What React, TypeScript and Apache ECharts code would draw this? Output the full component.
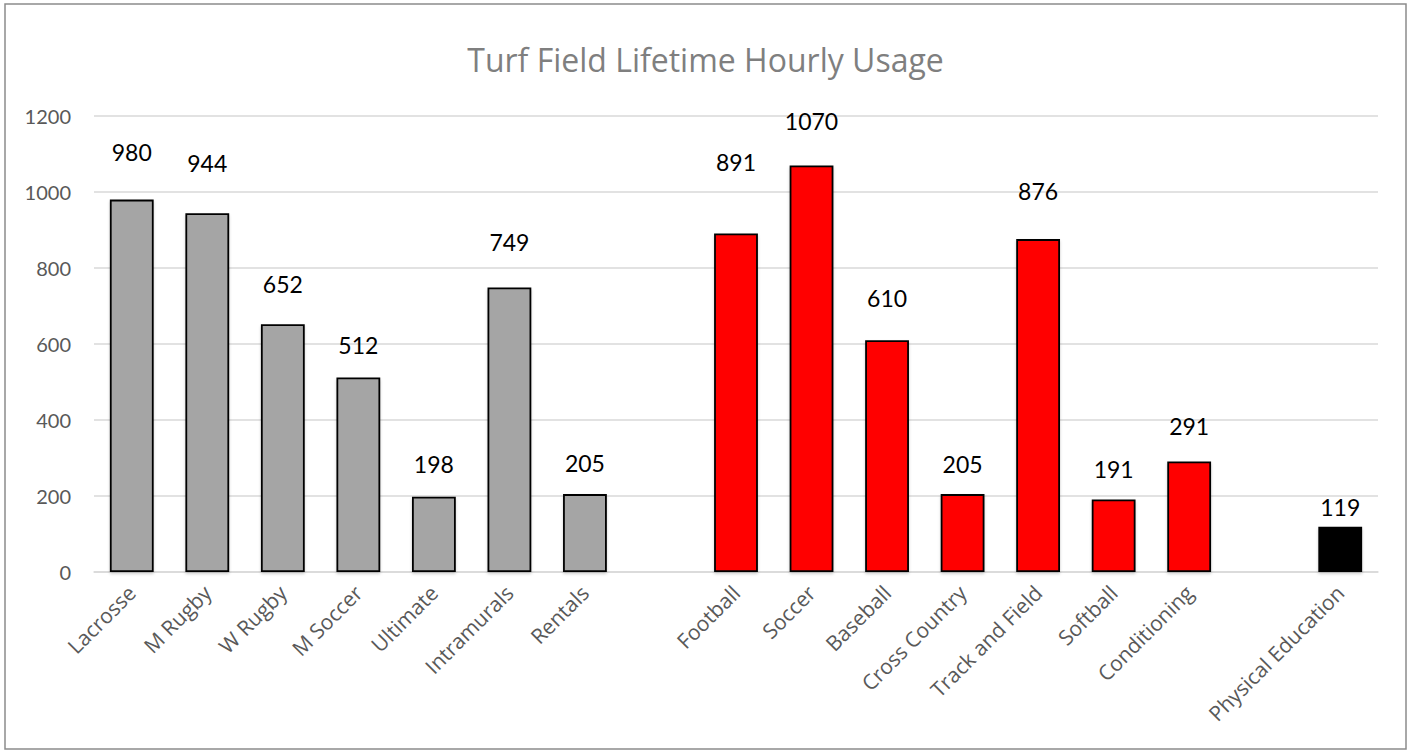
import React, { useEffect, useRef } from "react";
import * as echarts from "echarts";

const categories = [
  "Lacrosse", "M Rugby", "W Rugby", "M Soccer", "Ultimate", "Intramurals", "Rentals",
  "",
  "Football", "Soccer", "Baseball", "Cross Country", "Track and Field", "Softball", "Conditioning",
  " ",
  "Physical Education",
];
const hours: (number | null)[] = [
  980, 944, 652, 512, 198, 749, 205,
  null,
  891, 1070, 610, 205, 876, 191, 291,
  null,
  119,
];
const groupOf = [
  "club", "club", "club", "club", "club", "club", "club",
  "",
  "varsity", "varsity", "varsity", "varsity", "varsity", "varsity", "varsity",
  "",
  "pe",
];
const labelGap = [36, 39, 29, 21, 21, 34, 20, 0, 60, 33, 31, 19, 37, 19, 24, 0, 8];
const groupColors: Record<string, string> = { club: "#A5A5A5", varsity: "#FF0000", pe: "#000000" };
const yTicks = { min: 0, max: 1200, interval: 200 };

const FONT = "Lato";
const FONT2 = "Open Sans";

export default function App() {
  const ref = useRef<HTMLDivElement>(null);
  useEffect(() => {
    if (!ref.current) return;
    const chart = echarts.init(ref.current, null, { renderer: "svg" });
    const data = hours.map((v, i) =>
      v === null
        ? "-"
        : {
            value: v,
            itemStyle: { color: groupColors[groupOf[i]] },
            label: { distance: labelGap[i] },
          }
    );
    chart.setOption({
      animation: false,
      textStyle: { fontFamily: FONT },
      title: {
        text: "Turf Field Lifetime Hourly Usage",
        left: "center",
        top: 38,
        textStyle: { fontFamily: FONT2, fontSize: 32, fontWeight: "normal", color: "#7F7F7F" },
      },
      graphic: [
        {
          type: "rect",
          shape: { x: 5, y: 4, width: 1401, height: 745 },
          style: { fill: "none", stroke: "#8C8C8C", lineWidth: 1.5 },
          silent: true,
        },
      ],
      grid: { left: 94, top: 116, width: 1284, height: 456, containLabel: false },
      xAxis: {
        type: "category",
        data: categories,
        axisTick: { show: false },
        axisLine: { show: true, lineStyle: { color: "#D9D9D9", width: 1.5 } },
        axisLabel: {
          rotate: 45,
          interval: 0,
          margin: 17,
          fontFamily: FONT2,
          fontSize: 21,
          color: "#595959",
        },
      },
      yAxis: {
        type: "value",
        min: yTicks.min,
        max: yTicks.max,
        interval: yTicks.interval,
        axisLine: { show: false },
        axisTick: { show: false },
        splitLine: { lineStyle: { color: "#D9D9D9", width: 1.5 } },
        axisLabel: {
          fontFamily: FONT,
          fontSize: 20,
          color: "#595959",
          margin: 23,
          formatter: (v: number) => String(v),
        },
      },
      series: [
        {
          type: "bar",
          data,
          barCategoryGap: "42%",
          itemStyle: {
            borderColor: "#000000",
            borderWidth: 1.8,
            shadowColor: "rgba(0,0,0,0.18)",
            shadowBlur: 3,
            shadowOffsetY: 2,
          },
          label: {
            show: true,
            position: "top",
            fontFamily: FONT,
            fontSize: 23,
            color: "#000000",
          },
        },
      ],
    });
    return () => chart.dispose();
  }, []);
  return (
    <div
      ref={ref}
      style={{ position: "fixed", left: 0, top: 0, width: 1411, height: 751, background: "#FFFFFF" }}
    />
  );
}
